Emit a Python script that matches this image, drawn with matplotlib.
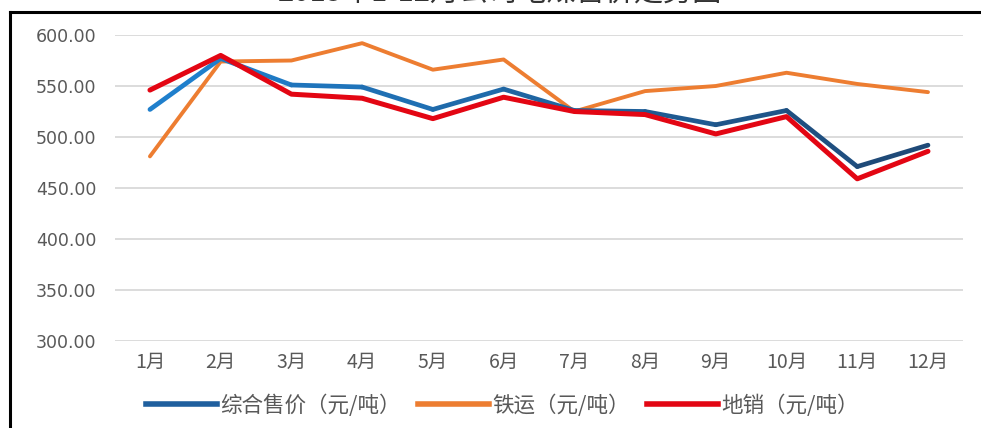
import matplotlib
matplotlib.use("Agg")
import matplotlib.pyplot as plt
import numpy as np
from matplotlib.lines import Line2D
from matplotlib.collections import LineCollection
from matplotlib.colors import to_rgb

plt.rcParams['font.family'] = ['Noto Sans CJK SC', 'DejaVu Sans']

months = ["1月", "2月", "3月", "4月", "5月", "6月", "7月", "8月", "9月", "10月", "11月", "12月"]
composite = [527, 577, 551, 549, 527, 547, 526, 525, 512, 526, 471, 492]
rail = [481, 574, 575, 592, 566, 576, 525, 545, 550, 563, 552, 544]
local = [546, 580, 542, 538, 518, 539, 525, 522, 503, 520, 459, 486]
yticks = [300, 350, 400, 450, 500, 550, 600]
title = "2015年1-12月公司电煤售价走势图"

fig = plt.figure(figsize=(9.81, 4.28), dpi=100)
ax = fig.add_axes([0.1168, 0.2033, 0.8652, 0.7149])

x = np.arange(len(months))

# blue line with light-to-dark gradient along the series
c0 = np.array(to_rgb("#1F7FCC"))
c1 = np.array(to_rgb("#1F4A78"))
pts = np.column_stack([x, composite])
segs = np.stack([pts[:-1], pts[1:]], axis=1)
tpos = np.linspace(0, 1, len(segs))
cols = [tuple(c0 + (c1 - c0) * t) for t in tpos]
lc = LineCollection(segs, colors=cols, linewidths=3.4, capstyle='round', joinstyle='round', zorder=3)
ax.add_collection(lc)

ax.plot(x, rail, color="#ED7D31", lw=2.8, solid_capstyle='round', zorder=2)
ax.plot(x, local, color="#E30613", lw=3.6, solid_capstyle='round', zorder=4)

ax.set_xlim(-0.5, len(months) - 0.5)
ax.set_ylim(300, 600)
ax.set_yticks(yticks)
ax.set_yticklabels([f"{v:.2f}" for v in yticks], fontfamily='DejaVu Sans', fontsize=12.5)
ax.set_xticks(x)
ax.set_xticklabels(months, fontsize=14)
ax.grid(axis='y', color="#D9D9D9", lw=1.3)
ax.set_axisbelow(True)
for s in ax.spines.values():
    s.set_visible(False)
ax.tick_params(axis='both', length=0, colors="#595959")
ax.tick_params(axis='y', pad=13)
ax.tick_params(axis='x', pad=8)

handles = [Line2D([], [], color="#1F5F9E", lw=4),
           Line2D([], [], color="#ED7D31", lw=4),
           Line2D([], [], color="#E30613", lw=4)]
labels = ["综合售价（元/吨）", "铁运（元/吨）", "地销（元/吨）"]
fig.legend(handles, labels, loc='center', bbox_to_anchor=(0.512, 0.053), ncol=3, frameon=False,
           handlelength=3.3, handletextpad=0.15, columnspacing=0.8,
           prop={'size': 15.5}, labelcolor="#595959")

fig.text(0.51, 0.979, title, ha='center', va='bottom', fontsize=21, color="#333333")

fig.add_artist(Line2D([0.0097, 0.0097], [0, 0.971], transform=fig.transFigure, color='black', lw=2.2))
fig.add_artist(Line2D([0.0097, 1.0], [0.971, 0.971], transform=fig.transFigure, color='black', lw=2.2))

fig.savefig("out.png", dpi=100)
